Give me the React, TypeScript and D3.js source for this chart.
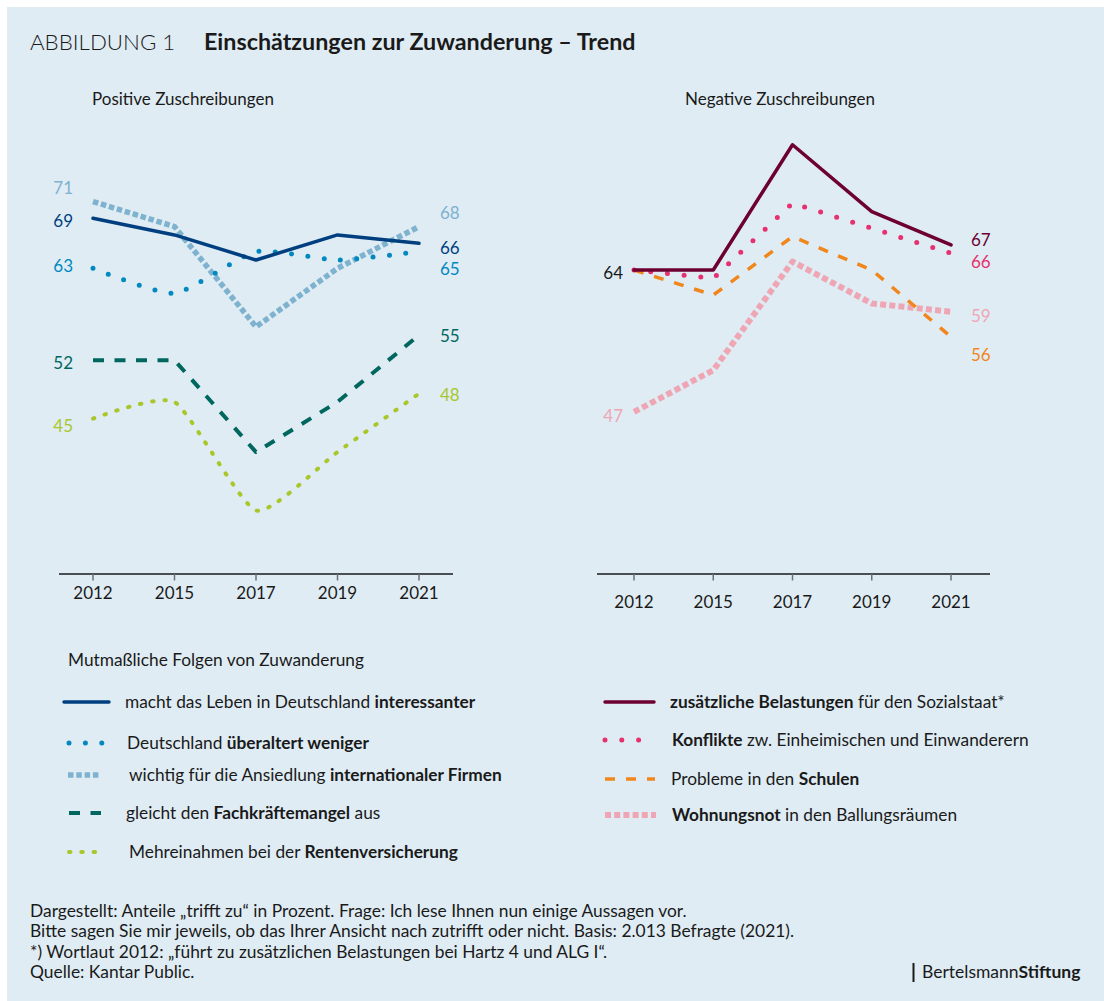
import React from "react";
import { scalePoint, scaleLinear, line, curveLinear, curveCardinal } from "d3";

// data (Anteile "trifft zu" in Prozent)
const years = ["2012", "2015", "2017", "2019", "2021"];

const interessanter = [69, 67, 64, 67, 66];
const ueberaltert = [63, 60, 65, 64, 65];
const firmen = [71, 68, 56, 63, 68];
const fachkraefte = [52, 52, 41, 47, 55];
const rente = [45, 47, 34, 41, 48];

const sozialstaat = [64, 64, 79, 71, 67];
const konflikte = [64, 63, 72, 69, 66];
const schulen = [64, 61, 68, 64, 56];
const wohnungsnot = [47, 52, 65, 60, 59];

const W = 1104;
const H = 1001;
const font = "Lato, 'Open Sans', sans-serif";

const C = {
  navy: "#003f7f",
  blue: "#0088bf",
  lightBlue: "#7eb2cf",
  teal: "#00675f",
  green: "#a9c62b",
  purple: "#6d0031",
  pink: "#e6306f",
  orange: "#f0861c",
  rose: "#efa6b4",
};

type Style = {
  color: string;
  width: number;
  dash?: string;
  cap: "round" | "butt";
  smooth: boolean;
};

const styles: Record<string, Style> = {
  interessanter: { color: C.navy, width: 3.5, cap: "round", smooth: false },
  ueberaltert: { color: C.blue, width: 5, dash: "0 16.4", cap: "round", smooth: true },
  firmen: { color: C.lightBlue, width: 5.5, dash: "5.5 2.8", cap: "butt", smooth: false },
  fachkraefte: { color: C.teal, width: 4, dash: "11 10.5", cap: "butt", smooth: false },
  rente: { color: C.green, width: 4, dash: "1.5 10.8", cap: "round", smooth: true },
  sozialstaat: { color: C.purple, width: 3.5, cap: "round", smooth: false },
  konflikte: { color: C.pink, width: 5, dash: "0 16.8", cap: "round", smooth: false },
  schulen: { color: C.orange, width: 3.5, dash: "10 11", cap: "butt", smooth: false },
  wohnungsnot: { color: C.rose, width: 6, dash: "6 3.2", cap: "butt", smooth: false },
};

const leftSeries = [
  { key: "firmen", values: firmen },
  { key: "ueberaltert", values: ueberaltert },
  { key: "interessanter", values: interessanter },
  { key: "fachkraefte", values: fachkraefte },
  { key: "rente", values: rente },
];

const rightSeries = [
  { key: "wohnungsnot", values: wohnungsnot },
  { key: "schulen", values: schulen },
  { key: "konflikte", values: konflikte },
  { key: "sozialstaat", values: sozialstaat },
];

// label nudges (px) to keep the end labels apart
const leftStartDy: Record<string, number> = { firmen: -14, interessanter: 3, ueberaltert: -2, fachkraefte: 3, rente: 7 };
const leftEndDy: Record<string, number> = { firmen: -14, interessanter: 5, ueberaltert: 17, fachkraefte: 1, rente: 1 };
const rightEndDy: Record<string, number> = { sozialstaat: -5, konflikte: 9, wohnungsnot: 4, schulen: 18 };

const legendLeft = [
  { key: "interessanter", parts: [["macht das Leben in Deutschland ", false], ["interessanter", true]], y: 702, tx: 125, x0: 64, len: 45 },
  { key: "ueberaltert", parts: [["Deutschland ", false], ["überaltert weniger", true]], y: 743, tx: 127, x0: 69, len: 36 },
  { key: "firmen", parts: [["wichtig für die Ansiedlung ", false], ["internationaler Firmen", true]], y: 775, tx: 129, x0: 68, len: 33 },
  { key: "fachkraefte", parts: [["gleicht den ", false], ["Fachkräftemangel", true], [" aus", false]], y: 813, tx: 126, x0: 69, len: 32 },
  { key: "rente", parts: [["Mehreinahmen bei der ", false], ["Rentenversicherung", true]], y: 852, tx: 129, x0: 69, len: 33 },
];

const legendRight = [
  { key: "sozialstaat", parts: [["zusätzliche Belastungen", true], [" für den Sozialstaat*", false]], y: 702, tx: 670, x0: 605, len: 49 },
  { key: "konflikte", parts: [["Konflikte", true], [" zw. Einheimischen und Einwanderern", false]], y: 740, tx: 672, x0: 605, len: 36 },
  { key: "schulen", parts: [["Probleme in den ", false], ["Schulen", true]], y: 779, tx: 671, x0: 605, len: 50 },
  { key: "wohnungsnot", parts: [["Wohnungsnot", true], [" in den Ballungsräumen", false]], y: 815, tx: 672, x0: 605, len: 51 },
];

const footnotes = [
  "Dargestellt: Anteile \u201Etrifft zu\u201C in Prozent. Frage: Ich lese Ihnen nun einige Aussagen vor.",
  "Bitte sagen Sie mir jeweils, ob das Ihrer Ansicht nach zutrifft oder nicht. Basis: 2.013 Befragte (2021).",
  "*) Wortlaut 2012: \u201Ef\u00FChrt zu zus\u00E4tzlichen Belastungen bei Hartz 4 und ALG I\u201C.",
  "Quelle: Kantar Public.",
];

const axisY = 574;

const xLeft = scalePoint<string>().domain(years).range([93, 419]);
const xRight = scalePoint<string>().domain(years).range([634, 951]);
const yLeft = scaleLinear().domain([30, 70]).range([543.9, 209.9]);
const yRight = scaleLinear().domain([30, 70]).range([553.9, 219.9]);

function Series({ values, k, x, y }: { values: number[]; k: string; x: any; y: any }) {
  const s = styles[k];
  const gen = line<number>()
    .x((_, i) => x(years[i]))
    .y((d) => y(d))
    .curve(s.smooth ? curveCardinal.tension(0.45) : curveLinear);
  return (
    <path
      d={gen(values) || ""}
      fill="none"
      stroke={s.color}
      strokeWidth={s.width}
      strokeDasharray={s.dash}
      strokeLinecap={s.cap}
      strokeLinejoin="round"
    />
  );
}

function Axis({ x, x0, x1, labelY }: { x: any; x0: number; x1: number; labelY: number }) {
  return (
    <g>
      <line x1={x0} x2={x1} y1={axisY} y2={axisY} stroke="#1a1a1a" strokeWidth={1.4} />
      {years.map((yr) => (
        <g key={yr}>
          <line x1={x(yr)} x2={x(yr)} y1={axisY} y2={axisY + 6.5} stroke="#707070" strokeWidth={1.5} />
          <text x={x(yr)} y={labelY} textAnchor="middle" fontSize={17} fill="#1a1a1a">
            {yr}
          </text>
        </g>
      ))}
    </g>
  );
}

function LegendItem({ item }: { item: any }) {
  const s = styles[item.key];
  return (
    <g>
      <line
        x1={item.x0}
        x2={item.x0 + item.len}
        y1={item.y}
        y2={item.y}
        stroke={s.color}
        strokeWidth={s.width}
        strokeDasharray={s.dash}
        strokeLinecap={s.cap}
      />
      <text x={item.tx} y={item.y + 6} fontSize={17.3} fill="#1a1a1a">
        {item.parts.map((p: any, i: number) => (
          <tspan key={i} fontWeight={p[1] ? 700 : 400}>
            {p[0]}
          </tspan>
        ))}
      </text>
    </g>
  );
}

export default function App() {
  const last = years.length - 1;
  return (
    <svg
      width={W}
      height={H}
      style={{ position: "absolute", left: 0, top: 0, fontFamily: font }}
    >
      <rect x={0} y={0} width={W} height={H} fill="#ffffff" />
      <rect x={7} y={7} width={W - 7} height={H - 7} fill="#dfecf4" />

      {/* title */}
      <text x={30} y={50} fontSize={22.3} fontWeight={300} fill="#1a1a1a">
        ABBILDUNG 1
      </text>
      <text x={204} y={50} fontSize={23.3} fontWeight={700} fill="#1a1a1a">
        Einschätzungen zur Zuwanderung – Trend
      </text>

      <text x={92} y={105} fontSize={17} fill="#1a1a1a">
        Positive Zuschreibungen
      </text>
      <text x={685} y={105} fontSize={17} fill="#1a1a1a">
        Negative Zuschreibungen
      </text>

      {/* left panel */}
      <Axis x={xLeft} x0={59} x1={453} labelY={599} />
      {leftSeries.map((s) => (
        <Series key={s.key} k={s.key} values={s.values} x={xLeft} y={yLeft} />
      ))}
      {leftSeries.map((s) => (
        <g key={s.key + "lbl"} fontSize={17} fill={styles[s.key].color}>
          <text x={73} y={yLeft(s.values[0]) + leftStartDy[s.key] + 6} textAnchor="end">
            {s.values[0]}
          </text>
          <text x={440} y={yLeft(s.values[last]) + leftEndDy[s.key] + 6}>
            {s.values[last]}
          </text>
        </g>
      ))}

      {/* right panel */}
      <Axis x={xRight} x0={597} x1={990} labelY={608} />
      {rightSeries.map((s) => (
        <Series key={s.key} k={s.key} values={s.values} x={xRight} y={yRight} />
      ))}
      <text x={623} y={yRight(sozialstaat[0]) + 3 + 6} textAnchor="end" fontSize={17} fill="#1a1a1a">
        {sozialstaat[0]}
      </text>
      <text x={623} y={yRight(wohnungsnot[0]) + 4 + 6} textAnchor="end" fontSize={17} fill={C.rose}>
        {wohnungsnot[0]}
      </text>
      {rightSeries.map((s) => (
        <text
          key={s.key + "end"}
          x={971}
          y={yRight(s.values[last]) + rightEndDy[s.key] + 6}
          fontSize={17}
          fill={styles[s.key].color}
        >
          {s.values[last]}
        </text>
      ))}

      {/* legend */}
      <text x={68} y={666} fontSize={17.3} fill="#1a1a1a">
        Mutmaßliche Folgen von Zuwanderung
      </text>
      {legendLeft.map((it) => (
        <LegendItem key={it.key} item={it} />
      ))}
      {legendRight.map((it) => (
        <LegendItem key={it.key} item={it} />
      ))}

      {/* footer */}
      {footnotes.map((t, i) => (
        <text key={i} x={30} y={917 + i * 20.3} fontSize={17.4} fill="#1a1a1a">
          {t}
        </text>
      ))}
      <line x1={913.5} x2={913.5} y1={963} y2={982} stroke="#1a1a1a" strokeWidth={2} />
      <text x={922} y={978} fontSize={17.5} fill="#1a1a1a">
        <tspan>Bertelsmann</tspan>
        <tspan fontWeight={700}>Stiftung</tspan>
      </text>
    </svg>
  );
}
